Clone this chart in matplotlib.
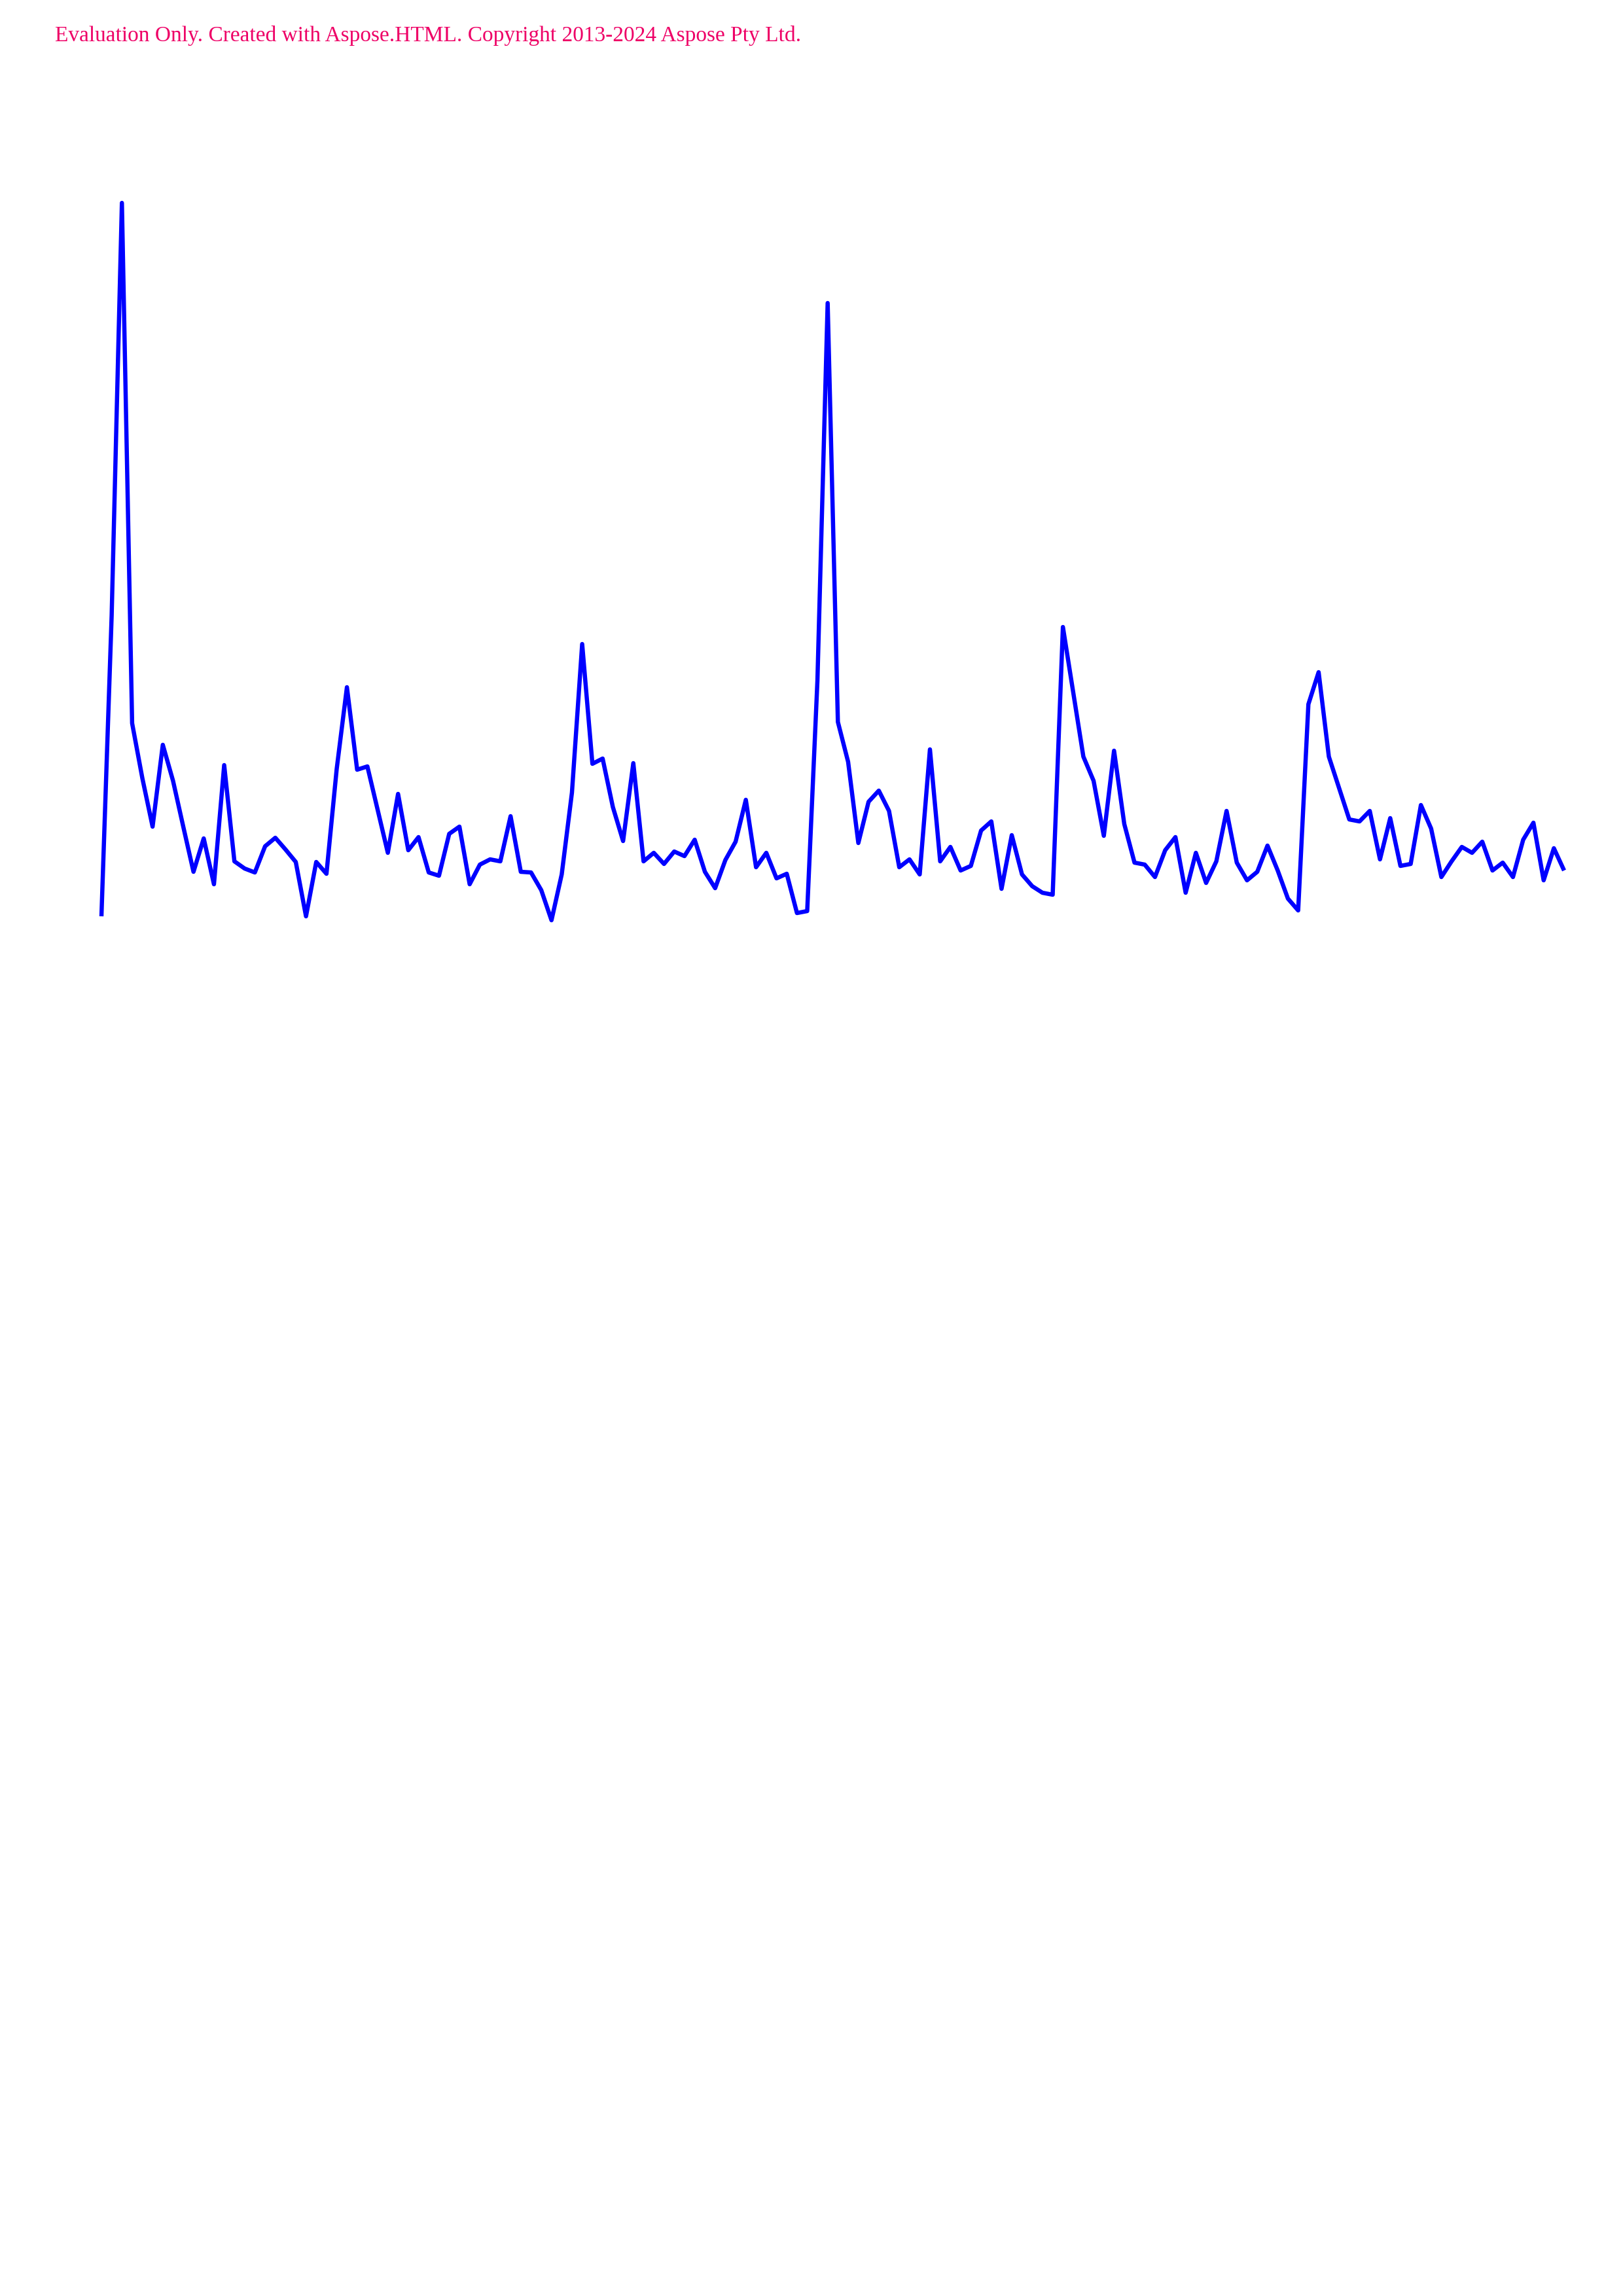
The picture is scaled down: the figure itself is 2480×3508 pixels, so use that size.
import matplotlib

matplotlib.use("Agg")
import matplotlib.pyplot as plt
import numpy as np

# values (arbitrary units, one per step)
values = [
    1.0, 47.0, 110.0, 30.5, 22.1, 14.7, 27.2, 21.7, 14.7, 7.8,
    12.9, 5.9, 24.1, 9.4, 8.3, 7.7, 11.7, 13.0, 11.2, 9.3,
    1.0, 9.3, 7.5, 23.5, 36.0, 23.4, 23.9, 17.3, 10.7, 19.7,
    11.1, 13.1, 7.7, 7.2, 13.6, 14.7, 5.9, 8.9, 9.7, 9.4,
    16.3, 7.8, 7.7, 5.0, 0.4, 7.4, 19.9, 42.6, 24.3, 25.1,
    17.7, 12.5, 24.4, 9.4, 10.7, 9.0, 10.9, 10.2, 12.7, 7.8,
    5.3, 9.6, 12.4, 18.8, 8.5, 10.7, 6.8, 7.5, 1.5, 1.8,
    37.0, 94.7, 30.7, 24.6, 12.2, 18.5, 20.2, 17.1, 8.5, 9.7,
    7.4, 26.5, 9.4, 11.6, 8.0, 8.7, 14.1, 15.5, 5.2, 13.4,
    7.4, 5.6, 4.6, 4.3, 45.2, 35.3, 25.4, 21.7, 13.3, 26.3,
    15.1, 9.2, 8.9, 7.0, 11.1, 13.1, 4.6, 10.7, 6.1, 9.4,
    17.1, 9.2, 6.5, 7.8, 11.8, 8.0, 3.7, 1.9, 33.4, 38.3,
    25.4, 20.6, 15.8, 15.5, 17.1, 9.7, 16.0, 8.7, 9.0, 18.0,
    14.4, 7.0, 9.4, 11.6, 10.7, 12.4, 8.0, 9.2, 7.0, 12.7,
    15.3, 6.5, 11.4, 8.0,
]
steps = np.arange(len(values))

watermark = "Evaluation Only. Created with Aspose.HTML. Copyright 2013-2024 Aspose Pty Ltd."

W, H = 2480, 3508
fig = plt.figure(figsize=(W / 300, H / 300), dpi=300)
fig.patch.set_facecolor("white")

# plot area in page pixels: x 155..2390, y 280..1430
left, right, top, bottom = 155, 2390, 280, 1430
ax = fig.add_axes([left / W, 1 - bottom / H, (right - left) / W, (bottom - top) / H])
ax.plot(
    steps,
    values,
    color="#0000ff",
    linewidth=1.55,
    solid_joinstyle="round",
    solid_capstyle="butt",
    clip_on=False,
)
ax.set_xlim(0, len(values) - 1)
ax.set_ylim(-2, 113)
ax.axis("off")

fig.text(
    84 / W,
    1 - 63 / H,
    watermark,
    fontsize=8.0,
    family="Liberation Serif",
    color="#ee0066",
    va="baseline",
    ha="left",
)

fig.savefig("out.png", dpi=300, facecolor="white")
